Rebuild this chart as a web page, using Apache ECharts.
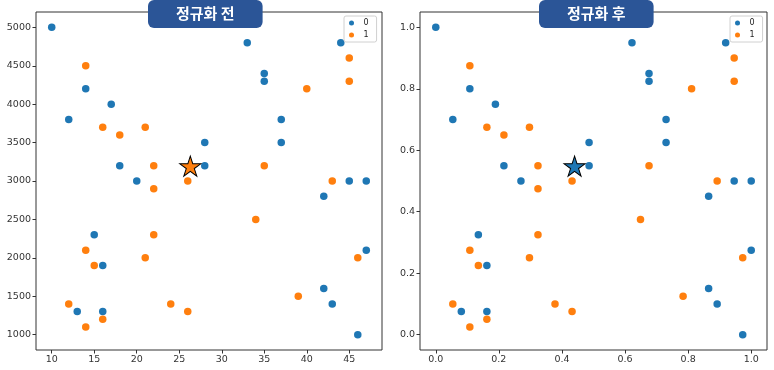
<!DOCTYPE html>
<html>
<head>
<meta charset="utf-8">
<script src="https://cdn.jsdelivr.net/npm/echarts@6/dist/echarts.min.js"></script>
<style>
html,body{margin:0;padding:0;background:#fff;}
#chart{width:774px;height:370px;}
</style>
</head>
<body>
<div id="chart"></div>
<script>
// ---- data ----
const rawXTicks = [10, 15, 20, 25, 30, 35, 40, 45];
const rawYTicks = [1000, 1500, 2000, 2500, 3000, 3500, 4000, 4500, 5000];
const normTicks = [0, 0.2, 0.4, 0.6, 0.8, 1.0];

const class0X = [10,12,14,17,18,20,28,28,33,35,35,37,37,44,45,47,42,15,16,13,16,47,42,43,46];
const class0Y = [5000,3800,4200,4000,3200,3000,3500,3200,4800,4400,4300,3800,3500,4800,3000,3000,2800,2300,1900,1300,1300,2100,1600,1400,1000];
const class1X = [14,16,18,21,22,26,22,35,40,45,45,43,34,22,14,21,15,46,39,12,24,26,16,14];
const class1Y = [4500,3700,3600,3700,3200,3000,2900,3200,4200,4600,4300,3000,2500,2300,2100,2000,1900,2000,1500,1400,1400,1300,1200,1100];

const class0NX = [0,0.054,0.108,0.189,0.216,0.270,0.486,0.486,0.622,0.676,0.676,0.730,0.730,0.919,0.946,1.0,0.865,0.135,0.162,0.081,0.162,1.0,0.865,0.892,0.973];
const class0NY = [1.0,0.7,0.8,0.75,0.55,0.5,0.625,0.55,0.95,0.85,0.825,0.7,0.625,0.95,0.5,0.5,0.45,0.325,0.225,0.075,0.075,0.275,0.15,0.1,0.0];
const class1NX = [0.108,0.162,0.216,0.297,0.324,0.432,0.324,0.676,0.811,0.946,0.946,0.892,0.649,0.324,0.108,0.297,0.135,0.973,0.784,0.054,0.378,0.432,0.162,0.108];
const class1NY = [0.875,0.675,0.65,0.675,0.55,0.5,0.475,0.55,0.8,0.9,0.825,0.5,0.375,0.325,0.275,0.25,0.225,0.25,0.125,0.1,0.1,0.075,0.05,0.025];

const queryRaw = [26.3, 3180];
const queryNorm = [0.44, 0.545];

const titles = ['정규화 전', '정규화 후'];
const classNames = ['0', '1'];

// ---- styling ----
const C0 = '#1f77b4', C1 = '#ff7f0e';
const starPath = 'path://M100 0 L122.45 69.1 L195.1 69.1 L136.3 111.8 L158.8 180.9 L100 138.2 L41.2 180.9 L63.7 111.8 L4.9 69.1 L77.55 69.1 Z';
const zip = (a, b) => a.map((v, i) => [v, b[i]]);
const labelStyle = {fontFamily: 'DejaVu Sans', fontSize: 9.5, color: '#333', margin: 5};

function axis(gi, min, max, ticks, fmt) {
  return {
    type: 'value', gridIndex: gi, min: min, max: max,
    axisLine: {show: false, onZero: false},
    splitLine: {show: false},
    axisTick: {show: true, inside: false, length: 3.5, customValues: ticks, lineStyle: {color: '#333', width: 1}},
    axisLabel: Object.assign({customValues: ticks, formatter: fmt}, labelStyle)
  };
}

const chart = echarts.init(document.getElementById('chart'), null, {renderer: 'canvas'});
const titleStyle = {color: '#fff', fontSize: 15, fontWeight: 'bold', fontFamily: 'Noto Sans CJK KR'};
const legendBase = {data: classNames, orient: 'vertical', top: 16, icon: 'circle', itemWidth: 14, itemHeight: 5, itemGap: 4,
  padding: [3, 8, 3, 5], borderColor: '#d0d0d0', borderWidth: 1, borderRadius: 2, backgroundColor: '#fff',
  textStyle: {fontSize: 8, fontFamily: 'DejaVu Sans', color: '#222'}, selectedMode: false};
chart.setOption({
  animation: false,
  title: [
    {text: titles[0], left: 148, top: 0, backgroundColor: '#2b5597', borderRadius: 6, padding: [6, 28, 7, 28], textStyle: titleStyle},
    {text: titles[1], left: 539, top: 0, backgroundColor: '#2b5597', borderRadius: 6, padding: [6, 28, 7, 28], textStyle: titleStyle}
  ],
  legend: [
    Object.assign({left: 344}, legendBase),
    Object.assign({left: 730}, legendBase)
  ],
  grid: [
    {left: 36, right: 392, top: 12, bottom: 20, show: true, borderColor: '#333', borderWidth: 1, backgroundColor: 'transparent'},
    {left: 420, right: 7, top: 12, bottom: 20, show: true, borderColor: '#333', borderWidth: 1, backgroundColor: 'transparent'}
  ],
  xAxis: [
    axis(0, 8.15, 48.85, rawXTicks, v => String(v)),
    axis(1, -0.05, 1.05, normTicks, v => v.toFixed(1))
  ],
  yAxis: [
    axis(0, 800, 5200, rawYTicks, v => String(v)),
    axis(1, -0.05, 1.05, normTicks, v => v.toFixed(1))
  ],
  series: [
    {name: classNames[0], type: 'scatter', xAxisIndex: 0, yAxisIndex: 0, symbolSize: 7.5, itemStyle: {color: C0, opacity: 1}, data: zip(class0X, class0Y)},
    {name: classNames[1], type: 'scatter', xAxisIndex: 0, yAxisIndex: 0, symbolSize: 7.5, itemStyle: {color: C1, opacity: 1}, data: zip(class1X, class1Y)},
    {name: 'query0', type: 'scatter', xAxisIndex: 0, yAxisIndex: 0, symbol: starPath, symbolSize: [21, 20], symbolOffset: [0, -1], z: 5,
     itemStyle: {color: C1, borderColor: '#000', borderWidth: 1, opacity: 1}, data: [queryRaw]},
    {name: classNames[0], type: 'scatter', xAxisIndex: 1, yAxisIndex: 1, symbolSize: 7.5, itemStyle: {color: C0, opacity: 1}, data: zip(class0NX, class0NY)},
    {name: classNames[1], type: 'scatter', xAxisIndex: 1, yAxisIndex: 1, symbolSize: 7.5, itemStyle: {color: C1, opacity: 1}, data: zip(class1NX, class1NY)},
    {name: 'query1', type: 'scatter', xAxisIndex: 1, yAxisIndex: 1, symbol: starPath, symbolSize: [21, 20], symbolOffset: [0, -1], z: 5,
     itemStyle: {color: C0, borderColor: '#000', borderWidth: 1, opacity: 1}, data: [queryNorm]}
  ]
});
</script>
</body>
</html>
